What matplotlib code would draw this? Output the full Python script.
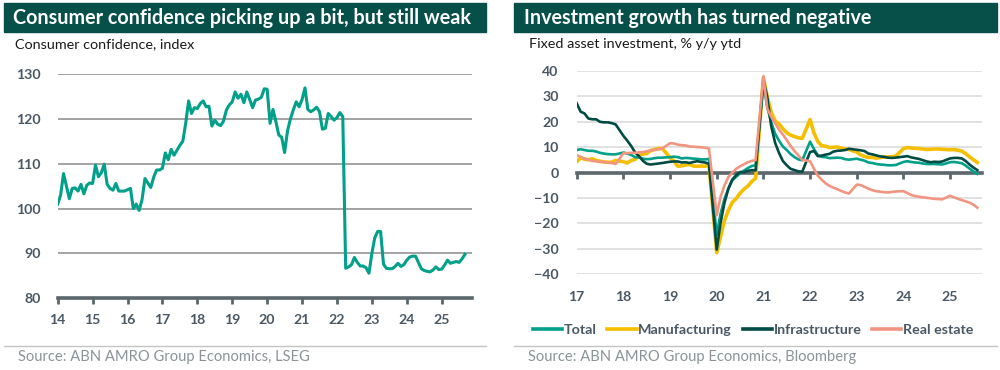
import matplotlib
matplotlib.use("Agg")
import matplotlib.pyplot as plt
from matplotlib.patches import Rectangle
from matplotlib.lines import Line2D
import numpy as np

plt.rcParams['font.family'] = ['Lato', 'DejaVu Sans']

# ---------------- Data ----------------
# Consumer confidence, monthly from Jan 2014
cc_start_year = 2014
cc_values = [
    101.0, 103.0, 107.8, 105.0, 102.2, 104.5, 104.6, 103.9, 105.4, 103.3, 105.2, 105.7,
    105.6, 109.7, 107.1, 108.0, 109.9, 105.4, 104.5, 104.1, 105.6, 103.9, 103.9, 103.9,
    104.2, 104.5, 100.0, 101.0, 99.6, 102.0, 106.7, 105.7, 104.7, 107.0, 108.6, 108.6,
    109.0, 112.4, 110.9, 113.2, 111.9, 113.0, 114.1, 115.0, 119.0, 124.0, 121.2, 122.5,
    122.3, 123.4, 124.0, 122.7, 122.8, 118.4, 119.7, 118.8, 118.5, 119.5, 122.0, 123.1,
    123.8, 126.0, 124.6, 125.5, 123.6, 126.0, 124.3, 122.5, 124.2, 124.4, 124.8, 126.7,
    126.6, 119.0, 122.1, 119.4, 116.4, 115.9, 112.5, 117.3, 120.0, 122.0, 123.8, 122.7,
    124.3, 126.9, 122.1, 121.6, 122.0, 122.6, 121.6, 117.7, 117.9, 121.2, 120.5, 119.7,
    120.3, 121.4, 120.5, 86.7, 87.0, 87.5, 89.1, 88.0, 87.2, 87.2, 86.8, 85.6,
    90.0, 93.5, 94.9, 94.9, 87.6, 86.7, 86.6, 86.6, 87.1, 87.8, 87.1, 87.5,
    88.5, 89.2, 89.4, 89.4, 88.0, 86.6, 86.2, 86.0, 85.9, 86.3, 87.0, 86.4,
    86.5, 87.4, 88.5, 87.8, 88.0, 88.2, 88.0, 88.8, 89.8,
]
cc_yticks = [80, 90, 100, 110, 120, 130]
cc_years = list(range(2014, 2026))

# Fixed asset investment, % y/y ytd: Feb..Dec each year (Jan-Feb combined), 2017 - Sep 2025
fai_years = [2017, 2018, 2019, 2020, 2021, 2022, 2023, 2024, 2025]
fai_months = list(range(2, 13))
fai_total = [
    8.9, 9.2, 8.9, 8.6, 8.6, 8.3, 7.8, 7.5, 7.3, 7.2, 7.2,
    7.9, 7.5, 7.0, 6.1, 6.0, 5.5, 5.3, 5.4, 5.7, 5.9, 5.9,
    6.1, 6.3, 6.1, 5.6, 5.8, 5.7, 5.5, 5.4, 5.2, 5.2, 5.4,
    -24.5, -16.1, -10.3, -6.3, -3.1, -1.6, -0.3, 0.8, 1.8, 2.6, 2.9,
    35.0, 25.6, 19.9, 15.4, 12.6, 10.3, 8.9, 7.3, 6.1, 5.2, 4.9,
    12.2, 9.3, 6.8, 6.2, 6.1, 5.7, 5.8, 5.9, 5.8, 5.3, 5.1,
    5.5, 5.1, 4.7, 4.0, 3.8, 3.4, 3.2, 3.1, 2.9, 2.9, 3.0,
    4.2, 4.5, 4.2, 4.0, 3.9, 3.6, 3.4, 3.4, 3.4, 3.3, 3.2,
    4.1, 4.2, 4.0, 3.7, 2.8, 1.6, 0.5, -0.5,
]
fai_manufacturing = [
    4.3, 5.8, 5.3, 5.1, 5.5, 4.8, 4.5, 4.2, 4.1, 4.1, 4.8,
    4.3, 3.8, 4.8, 5.2, 6.8, 7.3, 7.5, 8.7, 9.1, 9.5, 9.5,
    5.9, 4.6, 2.5, 2.7, 3.0, 3.3, 2.6, 2.5, 2.6, 2.5, 3.1,
    -31.5, -25.2, -18.8, -14.8, -11.7, -10.2, -8.1, -6.5, -5.3, -3.5, -2.2,
    37.3, 29.8, 23.8, 20.4, 19.2, 17.3, 15.7, 14.8, 14.2, 13.7, 13.5,
    20.9, 15.6, 12.2, 10.6, 10.4, 9.9, 10.0, 10.1, 9.7, 9.3, 9.1,
    8.1, 7.0, 6.4, 6.0, 6.0, 5.7, 5.9, 6.2, 6.2, 6.3, 6.5,
    9.4, 9.9, 9.7, 9.6, 9.5, 9.3, 9.1, 9.2, 9.3, 9.3, 9.2,
    9.0, 9.1, 8.8, 8.5, 7.5, 6.2, 5.1, 4.0,
]
fai_infrastructure = [
    27.3, 24.0, 23.3, 21.3, 21.0, 21.0, 20.0, 19.8, 19.8, 19.5, 19.0,
    14.5, 12.6, 10.5, 8.0, 6.5, 4.7, 3.5, 3.2, 3.4, 3.6, 3.8,
    4.3, 4.4, 4.4, 4.0, 4.1, 3.8, 4.2, 4.5, 4.2, 4.0, 3.5,
    -30.3, -19.7, -11.8, -6.3, -2.7, -1.0, 0.2, 0.2, 0.7, 1.0, 0.9,
    36.6, 29.7, 18.4, 11.8, 7.8, 4.6, 2.9, 1.5, 1.0, 0.5, 0.4,
    8.1, 8.5, 6.5, 6.7, 7.1, 7.4, 8.3, 8.6, 8.7, 8.9, 9.4,
    9.0, 8.8, 8.5, 7.5, 7.2, 6.8, 6.4, 6.2, 5.9, 5.8, 5.9,
    6.3, 6.5, 6.0, 5.7, 5.4, 4.9, 4.4, 4.1, 4.3, 4.2, 4.4,
    5.6, 5.8, 5.8, 5.6, 4.6, 3.2, 2.0, 1.0,
]
fai_real_estate = [
    6.8, 6.2, 5.5, 5.1, 4.6, 4.5, 4.2, 4.2, 3.9, 3.8, 3.4,
    7.6, 7.7, 7.8, 7.8, 8.0, 8.1, 8.4, 8.7, 9.0, 9.2, 9.5,
    11.6, 11.5, 11.0, 10.8, 10.7, 10.3, 10.2, 10.1, 10.0, 9.8, 9.5,
    -16.8, -9.5, -5.0, -1.7, 0.0, 1.5, 2.5, 3.3, 4.1, 4.6, 4.9,
    38.0, 25.3, 22.0, 19.5, 17.0, 15.0, 12.8, 10.5, 8.5, 6.8, 5.0,
    4.5, 1.5, -1.2, -2.8, -4.2, -5.2, -5.9, -6.5, -7.2, -7.8, -8.2,
    -4.7, -4.9, -5.6, -6.3, -6.9, -7.3, -7.5, -7.7, -7.8, -7.6, -7.4,
    -7.3, -8.0, -8.8, -9.2, -9.5, -9.7, -9.9, -10.1, -10.3, -10.4, -10.5,
    -9.1, -9.7, -10.3, -10.8, -11.3, -11.8, -12.6, -13.8,
]
fai_series_names = ["Total", "Manufacturing", "Infrastructure", "Real estate"]
fai_yticks = [-40, -30, -20, -10, 0, 10, 20, 30, 40]

# ---------------- Styles ----------------
BAR = '#07504a'
TEAL = '#00a08a'
YELLOW = '#f5bf00'
DKGREEN = '#004c45'
SALMON = '#f29580'
TICKC = '#4a5866'
AXISC = '#5b676c'
GRIDL = '#a3a3a3'
GRIDR = '#dcdcdc'
SRC = '#8a9397'

W, H = 1000, 370
fig = plt.figure(figsize=(10, 3.7), dpi=100)


def fx(px):
    return px / W


def fy(py):
    return 1 - py / H


# Title bars
fig.patches.append(Rectangle((fx(4), fy(32)), fx(482), 29 / H, transform=fig.transFigure,
                             color=BAR, zorder=0))
fig.patches.append(Rectangle((fx(514), fy(32)), fx(483), 29 / H, transform=fig.transFigure,
                             color=BAR, zorder=0))
fig.text(fx(13), fy(17.5), "Consumer confidence picking up a bit, but still weak", color='white',
         fontsize=14.2, fontweight='bold', va='center', ha='left')
fig.text(fx(524), fy(17.5), "Investment growth has turned negative", color='white',
         fontsize=14.2, fontweight='bold', va='center', ha='left')
fig.text(fx(15), fy(44), "Consumer confidence, index", color='#1a1a1a', fontsize=10.4,
         va='center', ha='left')
fig.text(fx(529), fy(44), "Fixed asset investment, % y/y ytd", color='#1a1a1a', fontsize=10.4,
         va='center', ha='left')

# separators & sources
fig.add_artist(Line2D([fx(4), fx(486)], [fy(345.7), fy(345.7)], transform=fig.transFigure,
                      color='#c4c4c4', lw=1.0))
fig.add_artist(Line2D([fx(514), fx(997)], [fy(345.7), fy(345.7)], transform=fig.transFigure,
                      color='#c4c4c4', lw=1.0))
fig.text(fx(18), fy(357), "Source: ABN AMRO Group Economics, LSEG", color=SRC, fontsize=10.6,
         va='center', ha='left')
fig.text(fx(528), fy(357), "Source: ABN AMRO Group Economics, Bloomberg", color=SRC, fontsize=10.6,
         va='center', ha='left')

# ---------------- Left chart ----------------
axL = fig.add_axes([fx(57.7), 1 - 298.3 / H, fx(414), (298.3 - 74) / H])
cc_x = [cc_start_year + i / 12 for i in range(len(cc_values))]
axL.plot(cc_x, cc_values, color=TEAL, lw=2.2, zorder=3, solid_joinstyle='round')
axL.set_xlim(2014, 2025.86)
axL.set_ylim(80, 130)
axL.set_yticks(cc_yticks)
axL.set_xticks(cc_years)
axL.set_xticklabels([str(y % 100) for y in cc_years])
for v in cc_yticks[1:]:
    axL.axhline(v, color=GRIDL, lw=1.4, zorder=1)
for s in ['top', 'right', 'left']:
    axL.spines[s].set_visible(False)
axL.spines['bottom'].set_color(AXISC)
axL.spines['bottom'].set_linewidth(2.6)
axL.spines['bottom'].set_zorder(4)
axL.tick_params(axis='x', direction='out', length=4, width=2, color=AXISC, pad=7,
                labelsize=10.2, labelcolor=TICKC)
axL.tick_params(axis='y', length=0, pad=12, labelsize=10.2, labelcolor=TICKC)
for lab in axL.get_xticklabels() + axL.get_yticklabels():
    lab.set_fontweight('bold')

# ---------------- Right chart ----------------
axR = fig.add_axes([fx(576.7), 1 - 274.3 / H, fx(405.6), (274.3 - 71) / H])
fai_x = []
for yr in fai_years:
    for mo in fai_months:
        fai_x.append(yr + (mo - 2) / 12)
fai_x = fai_x[:len(fai_total)]
series = [fai_total, fai_manufacturing, fai_infrastructure, fai_real_estate]
colors = [TEAL, YELLOW, DKGREEN, SALMON]
widths = [1.9, 2.6, 1.9, 1.9]
orders = [3, 2, 4, 5]
handles = []
for name, vals, c, w, z in zip(fai_series_names, series, colors, widths, orders):
    h, = axR.plot(fai_x, vals, color=c, lw=w, zorder=z, label=name, solid_joinstyle='round')
    handles.append(h)
axR.set_xlim(2017, 2025.69)
axR.set_ylim(-40, 40)
axR.set_yticks(fai_yticks)
for v in fai_yticks:
    if v != 0:
        axR.axhline(v, color=GRIDR, lw=1.2, zorder=1)
for s in ['top', 'right', 'left']:
    axR.spines[s].set_visible(False)
axR.spines['bottom'].set_position(('data', 0))
axR.spines['bottom'].set_color(AXISC)
axR.spines['bottom'].set_linewidth(2.6)
axR.spines['bottom'].set_zorder(1.5)
fai_tick_years = list(range(2017, 2026))
axR.set_xticks(fai_tick_years)
axR.tick_params(axis='x', direction='out', length=4, width=2, color=AXISC, labelbottom=False)
axR.tick_params(axis='y', length=0, pad=13, labelsize=10.2, labelcolor=TICKC)
for lab in axR.get_yticklabels():
    lab.set_fontweight('bold')
sec = axR.secondary_xaxis(0)
sec.set_xticks(fai_tick_years)
sec.set_xticklabels([str(y % 100) for y in fai_tick_years])
sec.tick_params(axis='x', length=0, pad=12, labelsize=10.2, labelcolor=TICKC)
sec.spines['bottom'].set_visible(False)
for lab in sec.get_xticklabels():
    lab.set_fontweight('bold')

leg = fig.legend(handles=handles, loc='center left', bbox_to_anchor=(fx(533), fy(330)),
                 ncol=4, frameon=False, handlelength=2.05, handletextpad=0.1,
                 columnspacing=0.75, borderaxespad=0, borderpad=0,
                 prop={'weight': 'bold', 'size': 10.3})
for t in leg.get_texts():
    t.set_color(TICKC)
for lh in leg.get_lines():
    lh.set_linewidth(2.6)

fig.savefig("out.png", dpi=100)
